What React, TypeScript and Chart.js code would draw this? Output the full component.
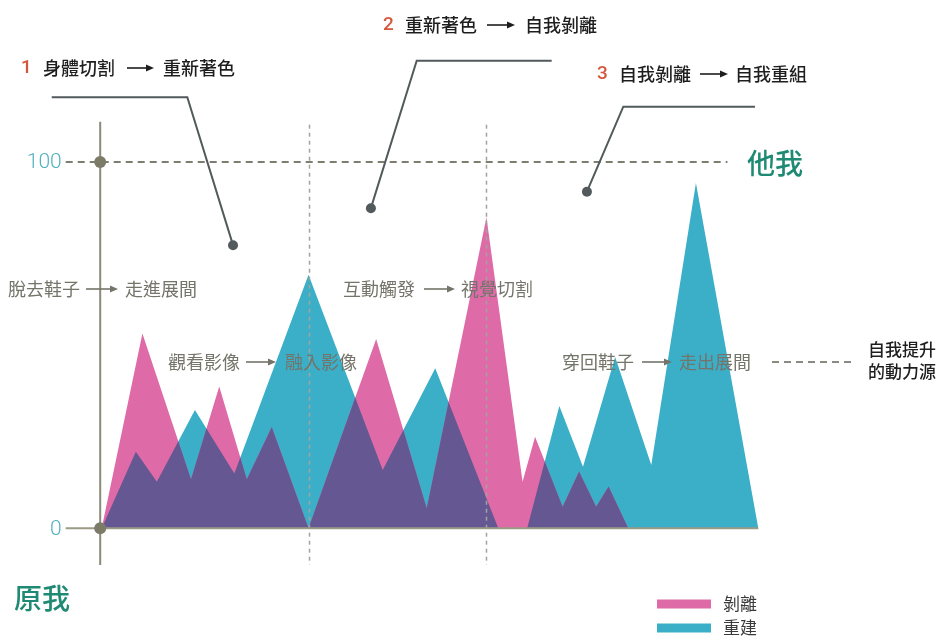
import React, { useEffect, useRef } from "react";
import { Chart, registerables } from "chart.js";

Chart.register(...registerables);

// ---- data (x: progress through the visit 0–100, y: 0 = 原我, 100 = 他我) ----
const seriesNames = ["剝離", "重建"];
const peelX = [0, 6.2, 13.6, 17.9, 22.1, 25.9, 31.5, 41.8, 49.5, 58.6, 64.1, 66.0, 70.2, 72.7, 75.3, 77.2, 80.2];
const peelY = [0, 53.2, 13.4, 38.7, 13.4, 27.7, 0, 51.7, 5.5, 84.9, 12.7, 25.0, 5.9, 15.5, 5.9, 11.4, 0];
const rebuildX = [0, 5.2, 8.4, 14.2, 20.2, 31.5, 42.8, 50.8, 60.4, 64.8, 69.7, 73.3, 78.2, 83.7, 90.5, 100];
const rebuildY = [0, 20.9, 12.7, 32.3, 15.0, 69.2, 15.9, 43.7, 0, 0, 33.4, 16.8, 46.8, 17.3, 94.3, 0];
const yTicks = [0, 100];
const yTickLabels = ["0", "100"];
const phaseDividers = [31.6, 58.6];
const axisEnds = ["原我", "他我"];
const calloutNums = ["1", "2", "3"];
const calloutFrom = ["身體切割", "重新著色", "自我剝離"];
const calloutTo = ["重新著色", "自我剝離", "自我重組"];
const calloutTargetX = [20.0, 41.0, 73.9];
const calloutTargetY = [77.3, 87.4, 91.9];
const stageFrom = ["脫去鞋子", "觀看影像", "互動觸發", "穿回鞋子"];
const stageTo = ["走進展間", "融入影像", "視覺切割", "走出展間"];
const outcomeLines = ["自我提升", "的動力源"];

const PINK = "#de6ba8";
const TEAL = "#3aafc7";
const PURPLE = "#655791";
const AXIS = "#8a8a78";
const CJK = '"Noto Sans CJK TC", "Noto Sans", sans-serif';

const toXY = (xs: number[], ys: number[]) => xs.map((x, i) => ({ x, y: ys[i] }));

function drawArrow(ctx: CanvasRenderingContext2D, x1: number, x2: number, y: number, color: string) {
  ctx.save();
  ctx.strokeStyle = color;
  ctx.fillStyle = color;
  ctx.lineWidth = 1.6;
  ctx.beginPath();
  ctx.moveTo(x1, y);
  ctx.lineTo(x2 - 5, y);
  ctx.stroke();
  ctx.beginPath();
  ctx.moveTo(x2, y);
  ctx.lineTo(x2 - 8, y - 3.5);
  ctx.lineTo(x2 - 8, y + 3.5);
  ctx.closePath();
  ctx.fill();
  ctx.restore();
}

function areaPath(ctx: CanvasRenderingContext2D, pts: any[], baseY: number) {
  ctx.beginPath();
  ctx.moveTo(pts[0].x, baseY);
  pts.forEach((p) => ctx.lineTo(p.x, p.y));
  ctx.lineTo(pts[pts.length - 1].x, baseY);
  ctx.closePath();
}

const overlapAndAnnotations = {
  id: "overlapAndAnnotations",
  afterDatasetsDraw(chart: any) {
    const ctx: CanvasRenderingContext2D = chart.ctx;
    const xs = chart.scales.x;
    const ys = chart.scales.y;
    const base = ys.getPixelForValue(0);
    const top100 = ys.getPixelForValue(100);
    const x0 = xs.getPixelForValue(0);
    const xEnd = xs.getPixelForValue(100);
    const area = chart.chartArea;

    // overlap region (intersection of both areas) in purple
    const pinkPts = chart.getDatasetMeta(0).data;
    const tealPts = chart.getDatasetMeta(1).data;
    ctx.save();
    areaPath(ctx, pinkPts, base);
    ctx.clip();
    areaPath(ctx, tealPts, base);
    ctx.fillStyle = PURPLE;
    ctx.fill();
    ctx.restore();

    // phase dividers (vertical dashed)
    ctx.save();
    ctx.strokeStyle = "#a3a39c";
    ctx.lineWidth = 1.5;
    ctx.setLineDash([4, 4]);
    phaseDividers.forEach((v) => {
      const px = Math.round(xs.getPixelForValue(v)) + 0.5;
      ctx.beginPath();
      ctx.moveTo(px, area.top + 3);
      ctx.lineTo(px, area.bottom);
      ctx.stroke();
    });
    ctx.restore();

    // 100 reference line (dashed)
    ctx.save();
    ctx.strokeStyle = "#7d7d70";
    ctx.lineWidth = 2;
    ctx.setLineDash([7, 5]);
    ctx.beginPath();
    ctx.moveTo(x0 - 36, top100);
    ctx.lineTo(xs.getPixelForValue(95.3), top100);
    ctx.stroke();
    ctx.restore();

    // y axis + baseline
    ctx.save();
    ctx.strokeStyle = AXIS;
    ctx.lineWidth = 2;
    ctx.beginPath();
    ctx.moveTo(x0 - 1.5, area.top);
    ctx.lineTo(x0 - 1.5, area.bottom);
    ctx.stroke();
    ctx.strokeStyle = "#9b9a86";
    ctx.beginPath();
    ctx.moveTo(x0 - 36, base);
    ctx.lineTo(xEnd, base);
    ctx.stroke();
    ctx.restore();

    // tick dots and labels
    yTicks.forEach((t, i) => {
      const py = ys.getPixelForValue(t);
      ctx.save();
      ctx.fillStyle = "#7c7b68";
      ctx.beginPath();
      ctx.arc(x0 - 1.5, py, 6, 0, Math.PI * 2);
      ctx.fill();
      ctx.fillStyle = "#4fb1bf";
      ctx.font = '300 21px Roboto, "Noto Sans", sans-serif';
      ctx.textAlign = "right";
      ctx.textBaseline = "middle";
      ctx.fillText(yTickLabels[i], x0 - 40, py + 1);
      ctx.restore();
    });

    // axis end labels
    ctx.save();
    ctx.fillStyle = "#1f8a74";
    ctx.font = `500 28px ${CJK}`;
    ctx.textBaseline = "middle";
    ctx.textAlign = "left";
    ctx.fillText(axisEnds[0], 14, 598);
    ctx.fillText(axisEnds[1], 747, top100 + 1);
    ctx.restore();

    // stage annotations (gray)
    const gray = "#74746a";
    const stagePos = [
      { x: 8, y: 289, a1: 86, a2: 118, x2: 125 },
      { x: 168, y: 362, a1: 246, a2: 276, x2: 285 },
      { x: 343, y: 289, a1: 424, a2: 455, x2: 461 },
      { x: 562, y: 362, a1: 642, a2: 672, x2: 679 },
    ];
    ctx.save();
    ctx.font = `400 18px ${CJK}`;
    ctx.textBaseline = "middle";
    ctx.textAlign = "left";
    ctx.fillStyle = gray;
    stagePos.forEach((p, i) => {
      ctx.fillText(stageFrom[i], p.x, p.y);
      drawArrow(ctx, p.a1, p.a2, p.y, gray);
      ctx.fillText(stageTo[i], p.x2, p.y);
    });
    ctx.restore();

    // dashed link to outcome
    ctx.save();
    ctx.strokeStyle = "#8a8a80";
    ctx.lineWidth = 2;
    ctx.setLineDash([7, 5]);
    ctx.beginPath();
    ctx.moveTo(772, 362);
    ctx.lineTo(854, 362);
    ctx.stroke();
    ctx.restore();

    ctx.save();
    ctx.font = `500 17px ${CJK}`;
    ctx.fillStyle = "#1e1e1e";
    ctx.textBaseline = "middle";
    ctx.fillText(outcomeLines[0], 868, 350);
    ctx.fillText(outcomeLines[1], 868, 372);
    ctx.restore();

    // callouts
    const cPos = [
      { nx: 21, tx: 43, y: 68, a1: 127, a2: 154, x2: 163, elbow: [[51.7, 97.3], [187.3, 97.3]] },
      { nx: 383, tx: 405, y: 25, a1: 487, a2: 515, x2: 525, elbow: [[551.7, 60.7], [416.7, 60.7]] },
      { nx: 597, tx: 619, y: 74, a1: 700, a2: 728, x2: 735, elbow: [[755, 106.7], [623.3, 106.7]] },
    ];
    cPos.forEach((c, i) => {
      const dx = xs.getPixelForValue(calloutTargetX[i]);
      const dy = ys.getPixelForValue(calloutTargetY[i]);
      ctx.save();
      ctx.strokeStyle = "#525a5c";
      ctx.fillStyle = "#525a5c";
      ctx.lineWidth = 2;
      ctx.beginPath();
      ctx.moveTo(c.elbow[0][0], c.elbow[0][1]);
      ctx.lineTo(c.elbow[1][0], c.elbow[1][1]);
      ctx.lineTo(dx, dy);
      ctx.stroke();
      ctx.beginPath();
      ctx.arc(dx, dy, 5, 0, Math.PI * 2);
      ctx.fill();
      ctx.restore();

      ctx.save();
      ctx.textBaseline = "middle";
      ctx.font = `500 19px Roboto, "Noto Sans", sans-serif`;
      ctx.fillStyle = "#d5573b";
      ctx.fillText(calloutNums[i], c.nx, c.y);
      ctx.font = `500 18px ${CJK}`;
      ctx.fillStyle = "#1e1e1e";
      ctx.fillText(calloutFrom[i], c.tx, c.y);
      drawArrow(ctx, c.a1, c.a2, c.y, "#1e1e1e");
      ctx.fillText(calloutTo[i], c.x2, c.y);
      ctx.restore();
    });

    // legend
    const dsets = chart.data.datasets;
    ctx.save();
    ctx.textBaseline = "middle";
    ctx.font = `400 17px ${CJK}`;
    dsets.forEach((d: any, i: number) => {
      const ly = 604 + i * 24;
      ctx.fillStyle = d.backgroundColor;
      ctx.fillRect(657, ly - 4.5, 54, 9);
      ctx.fillStyle = "#3a3a3a";
      ctx.fillText(d.label, 723, ly);
    });
    ctx.restore();
  },
};

export default function App() {
  const ref = useRef<HTMLCanvasElement | null>(null);

  useEffect(() => {
    if (!ref.current) return;
    const chart = new Chart(ref.current, {
      type: "line",
      data: {
        datasets: [
          {
            label: seriesNames[0],
            data: toXY(peelX, peelY),
            backgroundColor: PINK,
            borderWidth: 0,
            pointRadius: 0,
            fill: "origin",
            tension: 0,
          },
          {
            label: seriesNames[1],
            data: toXY(rebuildX, rebuildY),
            backgroundColor: TEAL,
            borderWidth: 0,
            pointRadius: 0,
            fill: "origin",
            tension: 0,
          },
        ],
      },
      options: {
        animation: false,
        responsive: false,
        devicePixelRatio: 1,
        layout: { padding: { left: 101.7, right: 184.7, top: 121.7, bottom: 74 } },
        scales: {
          x: { type: "linear", min: 0, max: 100, display: false },
          y: { type: "linear", min: -10, max: 111, display: false },
        },
        plugins: {
          legend: { display: false },
          tooltip: { enabled: false },
        },
      },
      plugins: [overlapAndAnnotations],
    });
    return () => chart.destroy();
  }, []);

  return (
    <div style={{ position: "absolute", left: 0, top: 0, width: 943, height: 639, background: "#fff" }}>
      <canvas ref={ref} width={943} height={639} style={{ width: 943, height: 639, display: "block" }} />
    </div>
  );
}
